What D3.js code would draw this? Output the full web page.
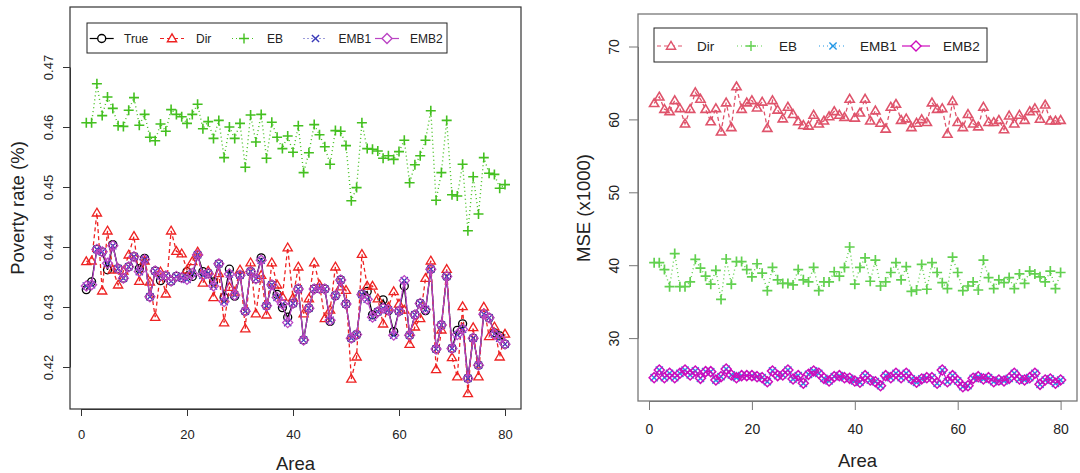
<!DOCTYPE html>
<html><head><meta charset="utf-8">
<script src="https://cdn.jsdelivr.net/npm/d3@7"></script>
<style>
html,body{margin:0;padding:0;background:#fff;}
svg{display:block;font-family:"Liberation Sans",Arial,Helvetica,sans-serif;}
</style></head><body>
<svg id="chart" width="1080" height="473"></svg>
<script>
// ---- axis ticks ----
const areaTicks = [0, 20, 40, 60, 80];
const rateTicks = [0.42, 0.43, 0.44, 0.45, 0.46, 0.47];
const rateTickLabels = ["0.42", "0.43", "0.44", "0.45", "0.46", "0.47"];
const mseTicks = [30, 40, 50, 60, 70];

// ---- poverty rate by area (left panel) ----
const trueRate = [0.4329,0.4342,0.4396,0.4392,0.4362,0.4404,0.4364,0.4348,0.4367,0.4384,
  0.4364,0.4381,0.4317,0.4360,0.4344,0.4352,0.4343,0.4351,0.4349,0.4359,
  0.4351,0.4387,0.4359,0.4356,0.4342,0.4372,0.4316,0.4363,0.4318,0.4353,
  0.4293,0.4359,0.4347,0.4382,0.4302,0.4337,0.4321,0.4299,0.4283,0.4306,
  0.4330,0.4245,0.4298,0.4330,0.4331,0.4330,0.4276,0.4319,0.4345,0.4305,
  0.4248,0.4254,0.4321,0.4326,0.4287,0.4292,0.4312,0.4294,0.4259,0.4293,
  0.4335,0.4253,0.4287,0.4306,0.4294,0.4363,0.4230,0.4270,0.4351,0.4231,
  0.4261,0.4272,0.4181,0.4248,0.4203,0.4288,0.4282,0.4257,0.4252,0.4238];
const dirRate = [0.4376,0.4377,0.4457,0.4327,0.4427,0.4362,0.4337,0.4360,0.4387,0.4418,
  0.4343,0.4377,0.4342,0.4283,0.4359,0.4322,0.4427,0.4393,0.4389,0.4362,
  0.4376,0.4392,0.4340,0.4360,0.4316,0.4356,0.4274,0.4333,0.4325,0.4362,
  0.4264,0.4374,0.4289,0.4353,0.4287,0.4374,0.4337,0.4317,0.4399,0.4315,
  0.4367,0.4289,0.4314,0.4374,0.4337,0.4281,0.4295,0.4367,0.4334,0.4328,
  0.4180,0.4217,0.4388,0.4335,0.4335,0.4314,0.4272,0.4300,0.4326,0.4305,
  0.4295,0.4238,0.4267,0.4281,0.4348,0.4377,0.4196,0.4262,0.4363,0.4216,
  0.4184,0.4301,0.4156,0.4266,0.4184,0.4300,0.4251,0.4267,0.4217,0.4255];
const ebRate = [0.4607,0.4607,0.4672,0.4619,0.4650,0.4631,0.4602,0.4601,0.4628,0.4649,
  0.4603,0.4621,0.4583,0.4577,0.4605,0.4593,0.4629,0.4621,0.4617,0.4606,
  0.4621,0.4638,0.4597,0.4609,0.4581,0.4611,0.4549,0.4600,0.4581,0.4606,
  0.4533,0.4620,0.4575,0.4621,0.4548,0.4608,0.4583,0.4564,0.4585,0.4558,
  0.4602,0.4524,0.4557,0.4604,0.4587,0.4567,0.4538,0.4594,0.4593,0.4569,
  0.4477,0.4499,0.4607,0.4564,0.4563,0.4560,0.4548,0.4552,0.4546,0.4559,
  0.4578,0.4507,0.4537,0.4552,0.4578,0.4627,0.4478,0.4524,0.4611,0.4487,
  0.4485,0.4538,0.4427,0.4517,0.4455,0.4549,0.4523,0.4521,0.4498,0.4504];
const emb1Rate = [0.4335,0.4337,0.4396,0.4392,0.4373,0.4402,0.4364,0.4348,0.4367,0.4384,
  0.4359,0.4379,0.4317,0.4360,0.4352,0.4352,0.4343,0.4351,0.4349,0.4346,
  0.4356,0.4387,0.4353,0.4356,0.4335,0.4372,0.4309,0.4355,0.4320,0.4353,
  0.4293,0.4359,0.4347,0.4378,0.4302,0.4337,0.4316,0.4305,0.4274,0.4306,
  0.4330,0.4245,0.4298,0.4330,0.4331,0.4330,0.4278,0.4319,0.4345,0.4305,
  0.4248,0.4254,0.4321,0.4313,0.4283,0.4292,0.4298,0.4295,0.4253,0.4293,
  0.4344,0.4253,0.4287,0.4306,0.4296,0.4363,0.4230,0.4270,0.4351,0.4231,
  0.4254,0.4263,0.4181,0.4248,0.4203,0.4288,0.4282,0.4255,0.4248,0.4238];
const emb2Rate = [0.4335,0.4337,0.4396,0.4392,0.4373,0.4402,0.4364,0.4348,0.4367,0.4384,
  0.4359,0.4379,0.4317,0.4360,0.4352,0.4352,0.4343,0.4351,0.4349,0.4346,
  0.4356,0.4387,0.4353,0.4356,0.4335,0.4372,0.4309,0.4355,0.4320,0.4353,
  0.4293,0.4359,0.4347,0.4378,0.4302,0.4337,0.4316,0.4305,0.4274,0.4306,
  0.4330,0.4245,0.4298,0.4330,0.4331,0.4330,0.4278,0.4319,0.4345,0.4305,
  0.4248,0.4254,0.4321,0.4313,0.4283,0.4292,0.4298,0.4295,0.4253,0.4293,
  0.4344,0.4253,0.4287,0.4306,0.4296,0.4363,0.4230,0.4270,0.4351,0.4231,
  0.4254,0.4263,0.4181,0.4248,0.4203,0.4288,0.4282,0.4255,0.4248,0.4238];

// ---- MSE (x1000) by area (right panel) ----
const dirMse = [62.2,63.1,61.4,61.1,62.6,61.5,59.4,61.4,63.7,62.8,
  61.4,59.7,61.5,58.3,62.3,58.9,64.5,61.4,62.3,62.6,
  61.6,62.4,58.8,62.6,61.3,60.1,61.7,60.7,59.7,59.2,
  59.1,60.6,59.4,59.8,60.4,61.1,60.6,60.3,62.8,60.2,
  60.9,62.8,59.8,61.2,59.5,58.7,61.7,62.1,59.9,60.1,
  58.9,59.5,60.0,59.6,62.3,61.4,61.5,58.0,62.5,59.6,
  58.9,60.7,59.4,59.0,61.7,59.6,59.6,59.9,58.6,60.5,
  59.4,60.6,59.9,61.1,61.5,60.05,62.0,59.8,59.8,59.9];
const ebMse = [40.35,40.35,39.4,37.05,41.6,37.05,37.05,37.7,40.8,39.6,
  38.5,37.4,39.3,35.3,40.85,37.4,40.5,40.5,39.4,38.4,
  40.2,38.9,36.5,39.7,38.0,37.5,37.5,37.3,39.4,38.0,
  37.7,39.7,36.5,37.7,37.7,39.1,38.5,39.7,42.5,37.4,
  39.7,41.0,37.8,40.7,37.15,37.7,39.0,40.35,38.0,39.8,
  36.4,36.6,40.1,36.7,40.35,39.0,37.6,36.8,41.1,39.0,
  36.5,37.15,37.7,36.6,40.7,38.3,36.8,38.0,37.6,38.3,
  36.8,38.8,37.5,39.2,38.8,38.4,37.7,39.2,36.8,39.0];
const emb1Mse = [24.57,25.62,24.57,25.17,24.57,25.17,25.62,24.94,25.49,24.48,
  25.4,25.4,24.25,24.71,25.76,24.94,24.57,24.85,24.85,24.85,
  24.71,24.57,24.02,25.49,24.85,24.94,25.62,24.39,24.85,23.8,
  25.03,25.49,25.17,24.48,24.12,24.71,24.85,24.57,24.48,24.12,
  23.94,24.85,24.25,24.02,23.47,24.85,24.57,25.17,24.57,25.17,
  24.39,23.94,24.39,24.57,24.57,23.8,25.62,24.02,24.85,24.12,
  23.33,23.47,24.48,24.71,24.39,24.57,24.02,24.25,24.12,24.48,
  25.17,24.39,24.25,24.57,25.17,23.66,24.25,24.39,23.8,24.25];
const emb2Mse = [24.57,25.62,24.57,25.17,24.57,25.17,25.62,24.94,25.49,24.48,
  25.4,25.4,24.25,24.71,25.76,24.94,24.57,24.85,24.85,24.85,
  24.71,24.57,24.02,25.49,24.85,24.94,25.62,24.39,24.85,23.8,
  25.03,25.49,25.17,24.48,24.12,24.71,24.85,24.57,24.48,24.12,
  23.94,24.85,24.25,24.02,23.47,24.85,24.57,25.17,24.57,25.17,
  24.39,23.94,24.39,24.57,24.57,23.8,25.62,24.02,24.85,24.12,
  23.33,23.47,24.48,24.71,24.39,24.57,24.02,24.25,24.12,24.48,
  25.17,24.39,24.25,24.57,25.17,23.66,24.25,24.39,23.8,24.25];

// ---- marker shapes (centred at 0,0) ----
const shapes = {
  circle: "M-4,0a4,4 0 1,0 8,0a4,4 0 1,0 -8,0",
  triangle: "M0,-4.6L4.6,3.2L-4.6,3.2Z",
  plus: "M-5,0H5M0,-5V5",
  cross: "M-3.6,-3.6L3.6,3.6M-3.6,3.6L3.6,-3.6",
  diamond: "M0,-5L5,0L0,5L-5,0Z"
};

const svg = d3.select("#chart");

function drawSeries(g, values, x, y, s) {
  const pts = values.map((v, i) => [x(i + 1), y(v)]);
  g.append("path")
    .attr("d", d3.line()(pts))
    .attr("fill", "none")
    .attr("stroke", s.color)
    .attr("stroke-width", s.lw || 1.2)
    .attr("stroke-dasharray", s.dash || null);
  g.selectAll(null).data(pts).enter().append("path")
    .attr("transform", d => `translate(${d[0]},${d[1]})`)
    .attr("d", shapes[s.shape])
    .attr("fill", "none")
    .attr("stroke", s.color)
    .attr("stroke-width", s.mw || 1.3);
}

function drawLegend(g, items, box, cy, font) {
  g.append("rect")
    .attr("x", box.x).attr("y", box.y).attr("width", box.w).attr("height", box.h)
    .attr("fill", "#fff").attr("stroke", "#222").attr("stroke-width", 1);
  items.forEach(it => {
    g.append("line")
      .attr("x1", it.cx - it.half).attr("x2", it.cx + it.half)
      .attr("y1", cy).attr("y2", cy)
      .attr("stroke", it.color).attr("stroke-width", it.lw || 1.2)
      .attr("stroke-dasharray", it.dash || null);
    g.append("path")
      .attr("transform", `translate(${it.cx},${cy})`)
      .attr("d", shapes[it.shape]).attr("fill", "#fff")
      .attr("stroke", it.color).attr("stroke-width", 1.4);
    g.append("text")
      .attr("x", it.tx).attr("y", cy + font * 0.36)
      .attr("font-size", font).attr("fill", "#222")
      .text(it.label);
  });
}

// ================= left panel: poverty rate =================
const L = { left: 70, top: 7, right: 521, bottom: 409 };
const xL = d3.scaleLinear().domain([0, 80]).range([81, 505]);
const yL = d3.scaleLinear().domain([0.42, 0.47]).range([367, 67]);
const gL = svg.append("g");

const leftStyles = [
  { key: "True", values: trueRate, color: "#000000", shape: "circle", lw: 1.3 },
  { key: "Dir",  values: dirRate,  color: "#ee2222", shape: "triangle", dash: "4,3", lw: 1.3 },
  { key: "EB",   values: ebRate,   color: "#44c020", shape: "plus", dash: "1,3", lw: 1.4, mw: 1.6 },
  { key: "EMB1", values: emb1Rate, color: "#3a3ab8", shape: "cross", dash: "1,3", lw: 1.3 },
  { key: "EMB2", values: emb2Rate, color: "#bb44c4", shape: "diamond", lw: 1.2 }
];
leftStyles.forEach(s => drawSeries(gL.append("g"), s.values, xL, yL, s));

gL.append("rect")
  .attr("x", L.left).attr("y", L.top)
  .attr("width", L.right - L.left).attr("height", L.bottom - L.top)
  .attr("fill", "none").attr("stroke", "#333").attr("stroke-width", 1.2);

const axBL = gL.append("g").attr("transform", `translate(0,${L.bottom})`)
  .call(d3.axisBottom(xL).tickValues(areaTicks).tickSize(7).tickSizeOuter(0));
axBL.selectAll(".tick text").attr("y", 30).attr("dy", 0).attr("font-size", 13).attr("fill", "#222");

const axLL = gL.append("g").attr("transform", `translate(${L.left},0)`)
  .call(d3.axisLeft(yL).tickValues(rateTicks).tickFormat((d, i) => rateTickLabels[i])
    .tickSize(7).tickSizeOuter(0));
axLL.selectAll(".tick text")
  .attr("transform", "rotate(-90)").attr("x", 0).attr("y", -17).attr("dy", 0)
  .attr("text-anchor", "middle").attr("font-size", 13).attr("fill", "#222");
[axBL, axLL].forEach(a => {
  a.select(".domain").attr("stroke", "#333");
  a.selectAll(".tick line").attr("stroke", "#333");
});

gL.append("text").attr("x", (L.left + L.right) / 2).attr("y", 469.5)
  .attr("text-anchor", "middle").attr("font-size", 18.5).attr("fill", "#222").text("Area");
gL.append("text").attr("transform", "translate(24,208) rotate(-90)")
  .attr("text-anchor", "middle").attr("font-size", 18.5).attr("fill", "#222").text("Poverty rate (%)");

drawLegend(gL, [
  { label: "True", color: "#000", shape: "circle", cx: 101.7, half: 12, tx: 124 },
  { label: "Dir",  color: "#ee2222", shape: "triangle", dash: "4,3", cx: 172, half: 12, tx: 196 },
  { label: "EB",   color: "#44c020", shape: "plus", dash: "1,3", cx: 244, half: 12, tx: 267 },
  { label: "EMB1", color: "#3a3ab8", shape: "cross", dash: "1,3", cx: 315.5, half: 12, tx: 338.5 },
  { label: "EMB2", color: "#bb44c4", shape: "diamond", cx: 387, half: 12, tx: 410 }
], { x: 87, y: 23, w: 360, h: 30 }, 38.5, 12);

// ================= right panel: MSE =================
const R = { left: 638, top: 14, right: 1077, bottom: 401 };
const xR = d3.scaleLinear().domain([0, 80]).range([649, 1060.6]);
const yR = d3.scaleLinear().domain([30, 70]).range([338.1, 46.5]);
const gR = svg.append("g");

const rightStyles = [
  { key: "Dir",  values: dirMse,  color: "#DF536B", shape: "triangle", dash: "4,3", lw: 1.3, mw: 1.6 },
  { key: "EB",   values: ebMse,   color: "#61D04F", shape: "plus", dash: "1,3", lw: 1.4, mw: 1.7 },
  { key: "EMB1", values: emb1Mse, color: "#2297E6", shape: "cross", dash: "1,3", lw: 1.3, mw: 1.5 },
  { key: "EMB2", values: emb2Mse, color: "#CD0BBC", shape: "diamond", lw: 1.2, mw: 1.5 }
];
rightStyles.forEach(s => drawSeries(gR.append("g"), s.values, xR, yR, s));

gR.append("rect")
  .attr("x", R.left).attr("y", R.top)
  .attr("width", R.right - R.left).attr("height", R.bottom - R.top)
  .attr("fill", "none").attr("stroke", "#777").attr("stroke-width", 1.3);

const axBR = gR.append("g").attr("transform", `translate(0,${R.bottom})`)
  .call(d3.axisBottom(xR).tickValues(areaTicks).tickSize(9).tickSizeOuter(0));
axBR.selectAll(".tick text").attr("y", 33).attr("dy", 0).attr("font-size", 14).attr("fill", "#222");

const axLR = gR.append("g").attr("transform", `translate(${R.left},0)`)
  .call(d3.axisLeft(yR).tickValues(mseTicks).tickSize(9).tickSizeOuter(0));
axLR.selectAll(".tick text")
  .attr("transform", "rotate(-90)").attr("x", 0).attr("y", -19.5).attr("dy", 0)
  .attr("text-anchor", "middle").attr("font-size", 14).attr("fill", "#222");
[axBR, axLR].forEach(a => {
  a.select(".domain").attr("stroke", "#777");
  a.selectAll(".tick line").attr("stroke", "#777");
});

gR.append("text").attr("x", (R.left + R.right) / 2).attr("y", 467)
  .attr("text-anchor", "middle").attr("font-size", 18.5).attr("fill", "#222").text("Area");
gR.append("text").attr("transform", "translate(590,208) rotate(-90)")
  .attr("text-anchor", "middle").attr("font-size", 18.5).attr("fill", "#222").text("MSE (x1000)");

drawLegend(gR, [
  { label: "Dir",  color: "#DF536B", shape: "triangle", dash: "4,3", cx: 671, half: 14, tx: 697 },
  { label: "EB",   color: "#61D04F", shape: "plus", dash: "1,3", cx: 751, half: 14, tx: 779 },
  { label: "EMB1", color: "#2297E6", shape: "cross", dash: "1,3", cx: 833, half: 14, tx: 860 },
  { label: "EMB2", color: "#CD0BBC", shape: "diamond", cx: 916, half: 14, tx: 943 }
], { x: 654, y: 28, w: 333, h: 34 }, 46, 13.5);
</script>
</body></html>
